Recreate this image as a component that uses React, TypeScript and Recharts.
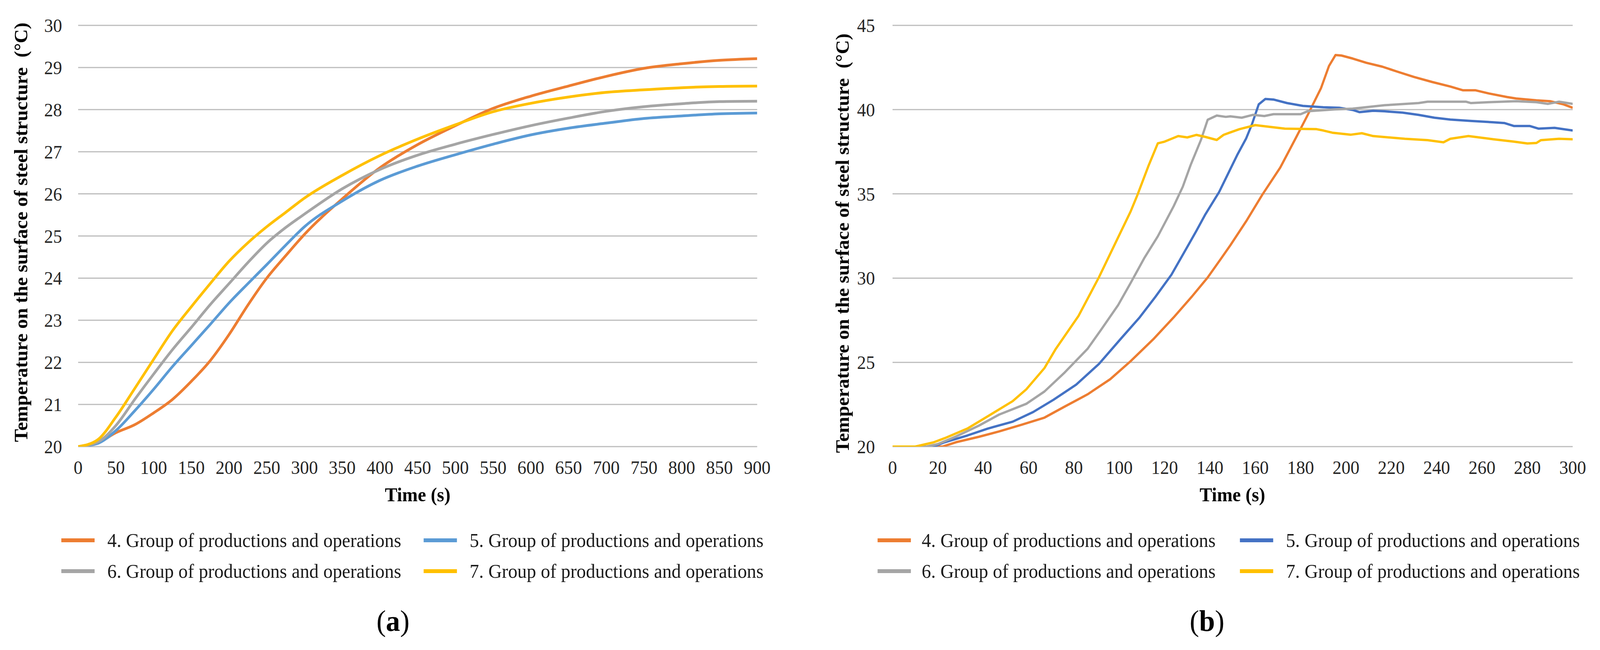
import React from 'react';
import { LineChart, Line, XAxis, YAxis, CartesianGrid, Legend } from 'recharts';

const FONT = '"Liberation Serif", "Times New Roman", Times, serif';

// ---------- shared ----------
const seriesNames = [
  '4. Group of productions and operations',
  '5. Group of productions and operations',
  '6. Group of productions and operations',
  '7. Group of productions and operations',
];
const colorsA = ['#ED7D31', '#5B9BD5', '#A5A5A5', '#FFC000'];
const colorsB = ['#ED7D31', '#4472C4', '#A5A5A5', '#FFC000'];

// ---------- chart (a) ----------
const xTicksA = [0, 50, 100, 150, 200, 250, 300, 350, 400, 450, 500, 550, 600, 650, 700, 750, 800, 850, 900];
const yTicksA = [20, 21, 22, 23, 24, 25, 26, 27, 28, 29, 30];
const timeA = [0, 25, 50, 75, 100, 125, 150, 175, 200, 225, 250, 275, 300, 350, 400, 450, 500, 550, 600, 650, 700, 750, 800, 850, 900];
const temp4A = [20, 20.08, 20.33, 20.52, 20.8, 21.12, 21.55, 22.04, 22.66, 23.36, 24.0, 24.53, 25.04, 25.88, 26.62, 27.17, 27.62, 28.03, 28.32, 28.56, 28.79, 28.98, 29.09, 29.17, 29.21];
const temp5A = [20, 20.07, 20.38, 20.85, 21.36, 21.9, 22.4, 22.9, 23.41, 23.87, 24.32, 24.78, 25.22, 25.83, 26.32, 26.66, 26.93, 27.18, 27.4, 27.56, 27.68, 27.79, 27.85, 27.9, 27.92];
const temp6A = [20, 20.1, 20.5, 21.12, 21.72, 22.3, 22.83, 23.37, 23.87, 24.37, 24.83, 25.2, 25.52, 26.12, 26.58, 26.92, 27.18, 27.41, 27.62, 27.8, 27.96, 28.07, 28.14, 28.19, 28.2];
const temp7A = [20, 20.15, 20.7, 21.38, 22.07, 22.75, 23.32, 23.87, 24.4, 24.84, 25.22, 25.56, 25.9, 26.44, 26.91, 27.3, 27.64, 27.95, 28.15, 28.3, 28.41, 28.47, 28.52, 28.55, 28.56];

// ---------- chart (b) ----------
const xTicksB = [0, 20, 40, 60, 80, 100, 120, 140, 160, 180, 200, 220, 240, 260, 280, 300];
const yTicksB = [20, 25, 30, 35, 40, 45];

const time4B = [0, 22, 28, 38, 47, 57, 67, 76, 86, 96, 105, 115, 124, 132, 139, 145, 149, 156, 163, 171, 178, 183, 189, 192.5, 195.4, 198, 203, 209, 216, 222.5, 230, 238, 246, 251.5, 257, 263, 271, 275, 284, 290, 296, 300];
const temp4B = [20, 20.0, 20.26, 20.58, 20.9, 21.3, 21.72, 22.38, 23.1, 24.0, 25.07, 26.37, 27.67, 28.9, 30.04, 31.18, 31.95, 33.38, 34.93, 36.56, 38.35, 39.65, 41.28, 42.59, 43.24, 43.21, 43.03, 42.78, 42.55, 42.26, 41.94, 41.64, 41.37, 41.15, 41.15, 40.96, 40.75, 40.66, 40.55, 40.5, 40.31, 40.11];

const time5B = [0, 18, 23, 33, 42, 53, 62, 71, 81, 91, 101, 109, 116, 123, 128.5, 134, 138, 144, 148, 152, 156, 158.6, 161.5, 164.4, 168, 174, 181, 190, 197, 203, 206, 212, 217, 225, 232, 239, 246, 255, 265, 270, 274, 281, 285, 292, 300];
const temp5B = [20, 20.0, 20.26, 20.66, 21.07, 21.48, 22.05, 22.78, 23.68, 24.9, 26.45, 27.67, 28.9, 30.2, 31.5, 32.8, 33.79, 35.1, 36.2, 37.3, 38.3, 39.16, 40.31, 40.63, 40.6, 40.39, 40.22, 40.14, 40.11, 39.98, 39.85, 39.93, 39.9, 39.82, 39.69, 39.52, 39.41, 39.33, 39.25, 39.2, 39.03, 39.03, 38.87, 38.92, 38.76];

const time6B = [0, 15, 20, 28, 38, 47, 59, 67, 76, 86, 92, 99.5, 105, 111, 117, 124, 128, 131.5, 136, 139, 143, 147, 149, 154, 159, 164, 168, 180, 183, 195, 203, 217, 232, 236, 253, 255, 263, 275, 284, 289, 294, 300];
const temp6B = [20, 20.0, 20.15, 20.6, 21.24, 21.9, 22.54, 23.27, 24.41, 25.8, 26.94, 28.4, 29.71, 31.18, 32.48, 34.27, 35.42, 36.72, 38.19, 39.4, 39.65, 39.57, 39.6, 39.52, 39.69, 39.62, 39.73, 39.73, 39.9, 40.01, 40.06, 40.26, 40.39, 40.47, 40.47, 40.39, 40.44, 40.5, 40.44, 40.34, 40.47, 40.34];

const time7B = [0, 10, 18, 23, 33, 42, 53, 59, 67, 72, 82, 91, 98, 105, 108, 113, 117, 120, 126, 130, 134, 138, 143, 146, 149, 153, 160, 165, 173, 187, 190, 194, 202, 207, 212, 226, 236, 243, 246, 254, 265, 274, 280, 284, 286, 294, 300];
const temp7B = [20, 20, 20.25, 20.5, 21.07, 21.8, 22.7, 23.4, 24.66, 25.8, 27.75, 30.04, 32.0, 33.95, 34.93, 36.7, 38.0, 38.1, 38.43, 38.35, 38.5, 38.38, 38.2, 38.5, 38.65, 38.84, 39.08, 39.0, 38.87, 38.84, 38.76, 38.63, 38.51, 38.6, 38.43, 38.27, 38.19, 38.06, 38.27, 38.43, 38.24, 38.1, 37.99, 38.02, 38.19, 38.27, 38.24];

const mk = (ts: number[], vs: number[]) => ts.map((t, i) => ({ t, v: vs[i] }));

const seriesA = [mk(timeA, temp4A), mk(timeA, temp5A), mk(timeA, temp6A), mk(timeA, temp7A)];
const seriesB = [mk(time4B, temp4B), mk(time5B, temp5B), mk(time6B, temp6B), mk(time7B, temp7B)];

const TICK_STYLE = { fontSize: 48, fill: '#262626', fontFamily: FONT };

type LegendPos = { swatchX: number[]; textX: number[]; rowY: number[] };

function makeLegendContent(colors: string[], pos: LegendPos) {
  return (props: any) => {
    const payload = (props && props.payload) || [];
    const items = payload.length ? payload : seriesNames.map((n, i) => ({ value: n, color: colors[i] }));
    return (
      <div style={{ position: 'relative', width: '100%', height: '100%' }}>
        {items.map((it: any, i: number) => {
          const col = i % 2;
          const row = Math.floor(i / 2);
          const cy = pos.rowY[row];
          return (
            <React.Fragment key={i}>
              <div
                style={{
                  position: 'absolute',
                  left: pos.swatchX[col],
                  top: cy - 5,
                  width: 89,
                  height: 10,
                  background: it.color || colors[i],
                }}
              />
              <div
                style={{
                  position: 'absolute',
                  left: pos.textX[col],
                  top: cy - 40,
                  height: 80,
                  display: 'flex',
                  alignItems: 'center',
                  whiteSpace: 'nowrap',
                  fontSize: 50,
                  fontFamily: FONT,
                  color: '#1a1a1a',
                }}
              >
                {it.value}
              </div>
            </React.Fragment>
          );
        })}
      </div>
    );
  };
}

type PanelProps = {
  width: number;
  height: number;
  yAxisWidth: number;
  rightMargin: number;
  xDomain: [number, number];
  xTicks: number[];
  yDomain: [number, number];
  yTicks: number[];
  yTickMargin: number;
  series: { t: number; v: number }[][];
  colors: string[];
  strokeWidth: number;
  curve: 'monotone' | 'linear';
  legendPos: LegendPos;
};

function Panel(p: PanelProps) {
  return (
    <LineChart
      width={p.width}
      height={p.height}
      margin={{ top: 65, right: p.rightMargin, bottom: 365, left: 0 }}
    >
      <CartesianGrid vertical={false} stroke="#BDBDBD" strokeWidth={3} />
      <XAxis
        type="number"
        dataKey="t"
        domain={p.xDomain}
        ticks={p.xTicks}
        interval={0}
        allowDataOverflow
        axisLine={false}
        tickLine={false}
        tickSize={0}
        tickMargin={36}
        height={156}
        tick={TICK_STYLE}
      />
      <YAxis
        type="number"
        domain={p.yDomain}
        ticks={p.yTicks}
        interval={0}
        allowDataOverflow
        axisLine={false}
        tickLine={false}
        tickSize={0}
        tickMargin={p.yTickMargin}
        width={p.yAxisWidth}
        tick={TICK_STYLE}
      />
      {p.series.map((d, i) => (
        <Line
          key={i}
          data={d}
          dataKey="v"
          name={seriesNames[i]}
          type={p.curve}
          stroke={p.colors[i]}
          strokeWidth={p.strokeWidth}
          dot={false}
          activeDot={false}
          isAnimationActive={false}
          strokeLinejoin="round"
        />
      ))}
      <Legend
        layout="vertical"
        align="center"
        verticalAlign="middle"
        wrapperStyle={{ position: 'absolute', left: 0, top: 0, width: p.width, height: p.height, margin: 0, pointerEvents: 'none' }}
        content={makeLegendContent(p.colors, p.legendPos)}
      />
    </LineChart>
  );
}

export default function App() {
  const W = 4279;
  const H = 1665;
  const iw = typeof window !== 'undefined' ? window.innerWidth : W;
  const ih = typeof window !== 'undefined' ? window.innerHeight : H;
  const sx = Math.min(1, iw / W);
  const sy = Math.min(1, ih / H);
  const yTitle = 'Temperature on the surface of steel structure\u00A0\u00A0(°C)';
  return (
    <div
      style={{
        position: 'absolute',
        left: 0,
        top: 0,
        width: W,
        height: H,
        background: '#ffffff',
        overflow: 'hidden',
        transform: `scale(${sx}, ${sy})`,
        transformOrigin: '0 0',
      }}
    >
      <div style={{ position: 'absolute', left: 0, top: 0 }}>
        <Panel
          width={2140}
          height={H}
          yAxisWidth={209}
          rightMargin={115}
          xDomain={[0, 900]}
          xTicks={xTicksA}
          yDomain={[20, 30]}
          yTicks={yTicksA}
          yTickMargin={43}
          series={seriesA}
          colors={colorsA}
          strokeWidth={7}
          curve="monotone"
          legendPos={{ swatchX: [164, 1133], textX: [287, 1256], rowY: [1384, 1463] }}
        />
      </div>
      <div style={{ position: 'absolute', left: 2140, top: 0 }}>
        <Panel
          width={2139}
          height={H}
          yAxisWidth={247}
          rightMargin={73}
          xDomain={[0, 300]}
          xTicks={xTicksB}
          yDomain={[20, 45]}
          yTicks={yTicksB}
          yTickMargin={47}
          series={seriesB}
          colors={colorsB}
          strokeWidth={6}
          curve="linear"
          legendPos={{ swatchX: [207, 1176], textX: [325, 1299], rowY: [1384, 1463] }}
        />
      </div>
      <svg
        width={W}
        height={H}
        style={{ position: 'absolute', left: 0, top: 0, pointerEvents: 'none' }}
        fontFamily={FONT}
      >
        <text x={56} y={595} transform="rotate(-90 56 595)" textAnchor="middle" dominantBaseline="central" fontSize={50} fontWeight="bold" fill="#000">
          {yTitle}
        </text>
        <text x={1117} y={1284} textAnchor="middle" fontSize={50} fontWeight="bold" fill="#000">
          Time (s)
        </text>
        <text x={2253} y={623} transform="rotate(-90 2253 623)" textAnchor="middle" dominantBaseline="central" fontSize={50} fontWeight="bold" fill="#000">
          {yTitle}
        </text>
        <text x={3296} y={1284} textAnchor="middle" fontSize={50} fontWeight="bold" fill="#000">
          Time (s)
        </text>
        <text x={1051} y={1616} textAnchor="middle" fontSize={76} fill="#000">
          (<tspan fontWeight="bold">a</tspan>)
        </text>
        <text x={3228} y={1616} textAnchor="middle" fontSize={76} fill="#000">
          (<tspan fontWeight="bold">b</tspan>)
        </text>
      </svg>
    </div>
  );
}
